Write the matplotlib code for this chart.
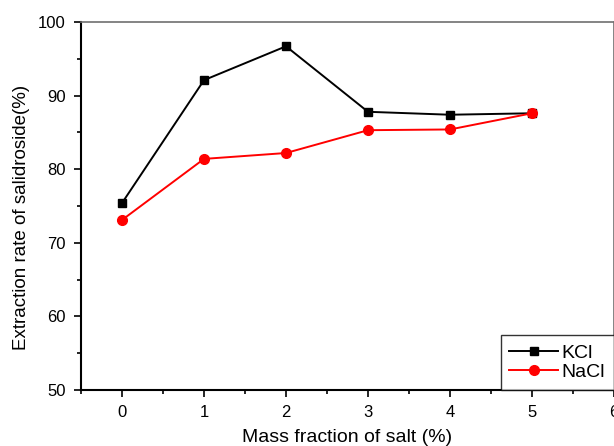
import matplotlib
matplotlib.use("Agg")
import matplotlib.pyplot as plt
from matplotlib.ticker import MultipleLocator

plt.rcParams['font.family'] = ['Liberation Sans', 'DejaVu Sans']

x = [0, 1, 2, 3, 4, 5]
kcl = [75.4, 92.1, 96.7, 87.8, 87.4, 87.6]
nacl = [73.1, 81.4, 82.2, 85.3, 85.4, 87.6]

fig = plt.figure(figsize=(6.14, 4.46), dpi=100)
ax = fig.add_axes([81/614, 1 - 390/446, (614 - 81)/614, (390 - 22)/446])

ax.plot(x, kcl, color='black', marker='s', markersize=6, linewidth=1.4, label='KCl', clip_on=False, zorder=3)
ax.plot(x, nacl, color='red', marker='o', markersize=7, linewidth=1.4, label='NaCl', clip_on=False, zorder=3)

ax.set_xlim(-0.5, 6)
ax.set_ylim(50, 100)
ax.xaxis.set_major_locator(MultipleLocator(1))
ax.xaxis.set_minor_locator(MultipleLocator(0.5))
ax.yaxis.set_major_locator(MultipleLocator(10))
ax.yaxis.set_minor_locator(MultipleLocator(5))
ax.tick_params(which='major', direction='out', length=5, width=1.2, labelsize=12, pad=6)
ax.tick_params(which='minor', direction='out', length=3, width=1.2)

for s in ['left', 'bottom']:
    ax.spines[s].set_linewidth(1.5)
for s in ['top', 'right']:
    ax.spines[s].set_linewidth(1.2)
    ax.spines[s].set_color('#707070')

ax.set_xlabel('Mass fraction of salt (%)', fontsize=14, labelpad=6)
ax.set_ylabel('Extraction rate of salidroside(%)', fontsize=13.5)
ax.yaxis.set_label_coords(-0.096, 0.47)

leg = ax.legend(loc='lower right', fontsize=14, frameon=True, fancybox=False,
                edgecolor='black', borderaxespad=0, handlelength=2.5,
                borderpad=0.45, labelspacing=0.1, handletextpad=0.2)
leg.get_frame().set_linewidth(1.0)

fig.savefig('out.png', dpi=100)
